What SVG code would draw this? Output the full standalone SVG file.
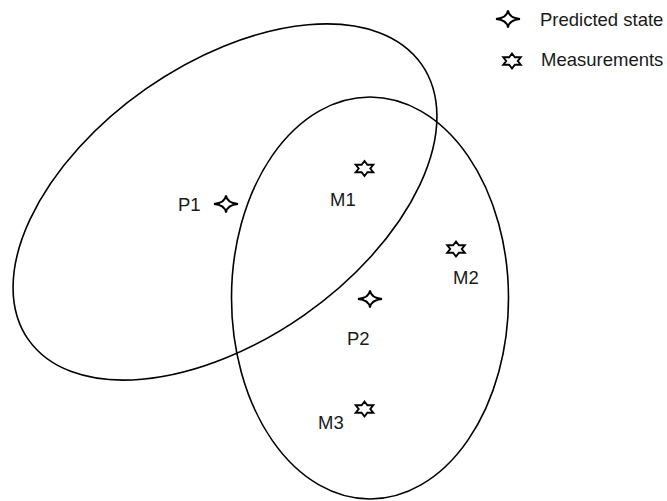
<svg xmlns="http://www.w3.org/2000/svg" width="667" height="501" viewBox="0 0 667 501">
  <style>
    .region { fill: none; stroke: #000; stroke-width: 1.6; }
    .mark { fill: #fff; stroke: #000; stroke-width: 1.9; stroke-linejoin: miter; }
    .lbl { font-family: "Liberation Sans", Arial, sans-serif; font-size: 18.5px; fill: #1a1a1a; }
  </style>
  <defs>
    <!-- four-pointed star: predicted state -->
    <path id="predicted" class="mark" d="M -12 0 Q -1 -1 0 -8.5 Q 1 -1 12 0 Q 1 1 0 8.5 Q -1 1 -12 0 Z"/>
    <!-- six-pointed star: measurement -->
    <polygon id="measured" class="mark" points="0,-7.5 2.9,-3.75 8.8,-3.75 5.8,0 8.8,3.75 2.9,3.75 0,7.5 -2.9,3.75 -8.8,3.75 -5.8,0 -8.8,-3.75 -2.9,-3.75"/>
  </defs>

  <rect width="667" height="501" fill="#fff"/>

  <!-- uncertainty regions -->
  <g id="regions">
    <ellipse id="region-1" class="region" cx="225" cy="202" rx="240" ry="138" transform="rotate(-35 225 202)"/>
    <ellipse id="region-2" class="region" cx="370" cy="298" rx="138.5" ry="201"/>
  </g>

  <g id="P1">
    <use href="#predicted" x="226" y="204"/>
    <text class="lbl" x="178" y="211">P1</text>
  </g>
  <g id="P2">
    <use href="#predicted" x="370" y="299"/>
    <text class="lbl" x="347" y="345">P2</text>
  </g>
  <g id="M1">
    <use href="#measured" x="364.5" y="168.5"/>
    <text class="lbl" x="330" y="206">M1</text>
  </g>
  <g id="M2">
    <use href="#measured" x="456" y="249"/>
    <text class="lbl" x="453" y="284">M2</text>
  </g>
  <g id="M3">
    <use href="#measured" x="364.5" y="409"/>
    <text class="lbl" x="318" y="429">M3</text>
  </g>

  <!-- legend -->
  <g id="legend">
    <use href="#predicted" x="508" y="19"/>
    <text class="lbl" x="540" y="26">Predicted state</text>
    <use href="#measured" x="512" y="61"/>
    <text class="lbl" x="541" y="66">Measurements</text>
  </g>
</svg>
